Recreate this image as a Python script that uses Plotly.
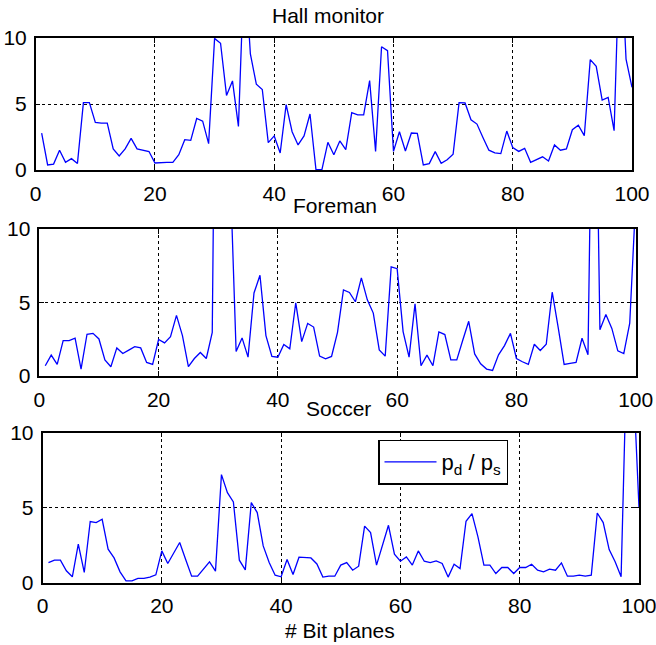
import plotly.graph_objects as go

# Ratio p_d / p_s per bit plane for three test sequences
bit_planes = list(range(1, 101))

hall_monitor = [
    2.8, 0.38, 0.45, 1.5, 0.58, 0.86, 0.5, 5.1, 5.1, 3.6,
    3.55, 3.55, 1.6, 1.06, 1.6, 2.4, 1.6, 1.5, 1.4, 0.53,
    0.58, 0.58, 0.58, 1.16, 2.3, 2.25, 3.9, 3.7, 2.0, 9.97,
    9.6, 5.65, 6.75, 3.3, 16.0, 8.8, 6.5, 6.1, 2.07, 2.58,
    1.29, 4.95, 2.9, 1.9, 2.58, 4.24, 0.03, 0.03, 2.1, 1.16,
    2.2, 1.54, 4.34, 4.17, 4.17, 6.77, 1.41, 9.34, 9.04, 1.41,
    2.9, 1.44, 2.8, 2.78, 0.38, 0.48, 1.39, 0.5, 0.78, 1.2,
    5.1, 5.08, 3.8, 3.48, 2.47, 1.5, 1.3, 1.24, 2.95, 1.7,
    1.41, 1.64, 0.58, 0.76, 1.0, 0.68, 1.9, 1.5, 1.6, 3.05,
    3.4, 2.6, 8.36, 7.85, 5.3, 5.5, 2.98, 18.0, 8.4, 6.26,
]

foreman = [
    0.7, 1.42, 0.79, 2.41, 2.41, 2.57, 0.47, 2.84, 2.9, 2.52,
    1.1, 0.63, 1.91, 1.53, 1.76, 2.0, 1.91, 0.92, 0.79, 2.48,
    2.25, 2.68, 4.12, 2.75, 0.63, 1.19, 1.6, 1.19, 2.97, 45.0,
    50.0, 14.0, 1.67, 2.59, 1.28, 5.65, 6.85, 2.75, 1.33, 1.28,
    2.14, 1.85, 4.98, 2.34, 3.58, 3.33, 1.35, 1.17, 1.33, 2.97,
    5.86, 5.68, 5.05, 6.67, 5.18, 4.28, 1.78, 1.35, 7.43, 7.3,
    3.02, 1.28, 4.91, 0.7, 1.42, 0.7, 3.0, 2.82, 1.1, 1.1,
    2.43, 3.72, 1.5, 0.83, 0.47, 0.38, 1.44, 2.07, 2.9, 1.19,
    0.97, 0.79, 2.16, 1.73, 2.16, 5.7, 3.31, 0.79, 0.86, 0.92,
    2.57, 1.44, 30.0, 3.15, 4.19, 3.24, 1.71, 1.53, 3.6, 12.0,
]

soccer = [
    1.33, 1.49, 1.49, 0.78, 0.38, 2.56, 0.67, 4.07, 4.0, 4.22,
    2.22, 1.64, 0.71, 0.11, 0.11, 0.27, 0.27, 0.36, 0.51, 2.11,
    1.27, 2.0, 2.67, 1.53, 0.42, 0.42, 0.93, 1.38, 0.76, 7.2,
    6.0, 5.38, 1.49, 0.84, 5.33, 4.67, 2.44, 1.33, 0.49, 0.38,
    1.53, 0.53, 1.69, 1.64, 1.64, 1.24, 0.36, 0.42, 0.42, 1.16,
    1.33, 0.82, 1.09, 3.76, 3.33, 1.16, 2.49, 3.82, 1.89, 1.42,
    1.71, 1.16, 2.11, 1.42, 1.33, 1.44, 1.27, 0.36, 1.22, 0.93,
    4.09, 4.6, 3.04, 1.16, 1.16, 0.6, 1.0, 1.0, 0.6, 1.0,
    1.0, 1.22, 0.82, 0.71, 0.89, 0.82, 1.31, 0.42, 0.42, 0.49,
    0.42, 0.49, 4.64, 4.0, 2.2, 1.38, 0.38, 16.0, 14.0, 5.0,
]

titles = ["Hall monitor", "Foreman", "Soccer"]
x_ticks = [0, 20, 40, 60, 80, 100]
y_ticks = [0, 5, 10]

W, H = 656, 645
FONT = "Liberation Sans, Arial, sans-serif"
LINE_COLOR = "#0000ff"

# Panel boxes in pixels: (left, right, top, bottom)
panels = [
    (35.7, 632.0, 38.0, 170.0),
    (39.3, 635.7, 229.0, 376.0),
    (42.5, 639.0, 432.7, 582.5),
]
# Title centres in pixels
title_pos = [(328, 15), (335, 205), (338, 408)]

fig = go.Figure()
series = [hall_monitor, foreman, soccer]

for i, (vals, (l, r, t, b)) in enumerate(zip(series, panels)):
    sfx = "" if i == 0 else str(i + 1)
    fig.add_trace(go.Scatter(
        x=bit_planes, y=vals, mode="lines",
        line=dict(color=LINE_COLOR, width=1.3),
        name="p<sub>d</sub> / p<sub>s</sub>",
        showlegend=(i == 2),
        xaxis="x" + sfx, yaxis="y" + sfx,
    ))
    common = dict(
        showline=True, linecolor="black", linewidth=1.5, mirror="ticks",
        ticks="inside", ticklen=5, tickwidth=1, tickcolor="black",
        showgrid=True, gridcolor="black", griddash="dot", gridwidth=1,
        zeroline=False, automargin=False, ticklabeloverflow="allow",
        tickfont=dict(family=FONT, size=21, color="black"),
    )
    fig.update_layout(**{
        "xaxis" + sfx: dict(
            common, domain=[l / W, r / W], anchor="y" + sfx,
            range=[0, 100], tickvals=x_ticks, ticklabelstandoff=4,
        ),
        "yaxis" + sfx: dict(
            common, domain=[1 - b / H, 1 - t / H], anchor="x" + sfx,
            range=[0, 10], tickvals=y_ticks, ticklabelstandoff=3,
        ),
    })
    tx, ty = title_pos[i]
    fig.add_annotation(
        x=tx / W, y=1 - ty / H, xref="paper", yref="paper",
        text=titles[i], showarrow=False, xanchor="center", yanchor="middle",
        font=dict(family=FONT, size=21, color="black"),
    )

fig.add_annotation(
    x=340 / W, y=1 - 630 / H, xref="paper", yref="paper",
    text="# Bit planes", showarrow=False, xanchor="center", yanchor="middle",
    font=dict(family=FONT, size=21, color="black"),
)

fig.update_layout(
    width=W, height=H,
    margin=dict(l=0, r=0, t=0, b=0, autoexpand=False),
    paper_bgcolor="white", plot_bgcolor="white",
    showlegend=True,
    legend=dict(
        x=378 / W, y=1 - 439.5 / H, xanchor="left", yanchor="top",
        bgcolor="white", bordercolor="black", borderwidth=1.5,
        font=dict(family=FONT, size=22, color="black"),
        itemwidth=52,
    ),
)

fig.write_html("out.html")
